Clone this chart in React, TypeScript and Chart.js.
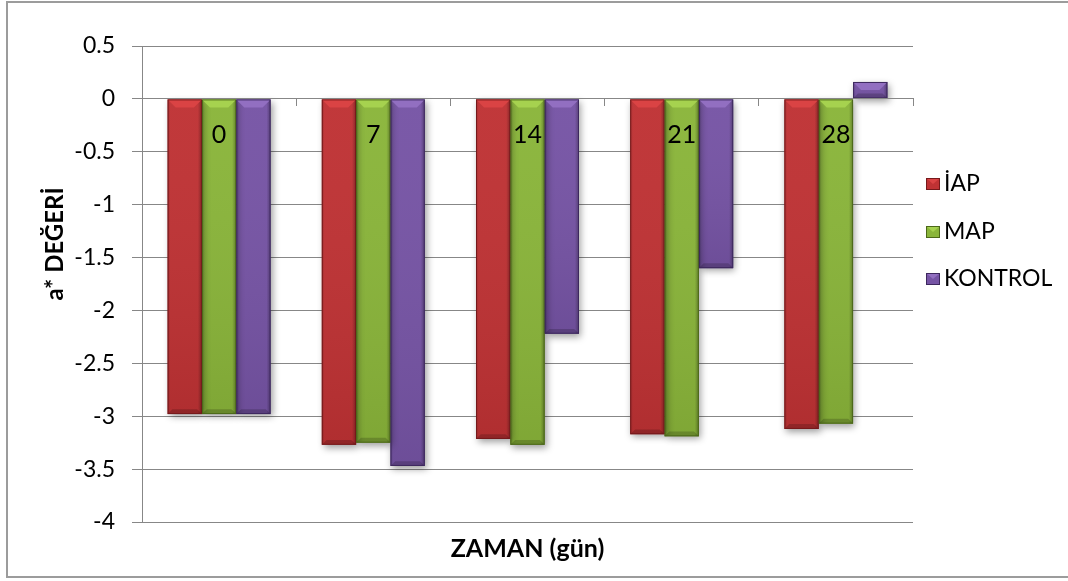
import { useEffect, useRef } from "react";
import { Chart, registerables } from "chart.js";

Chart.register(...registerables);

// Days of storage (x categories)
const days = ["0", "7", "14", "21", "28"];

// a* values per group
const iapValues = [-2.98, -3.27, -3.215, -3.17, -3.12];
const mapValues = [-2.98, -3.25, -3.27, -3.19, -3.07];
const kontrolValues = [-2.98, -3.47, -2.22, -1.6, 0.16];

const seriesNames = ["İAP", "MAP", "KONTROL"];

const yMin = -4;
const yMax = 0.5;
const yStep = 0.5;

const yTitle = "a* DEĞERİ";
const xTitle = "ZAMAN (gün)";

const FONT = "Lato, 'Open Sans', sans-serif";
const GRID = "#878787";

type Palette = { base: string; light: string; edge: string };
const palettes: Palette[] = [
  { base: "#BF3234", light: "#DA4344", edge: "#75191B" },
  { base: "#8AB53A", light: "#A6D24F", edge: "#4C6819" },
  { base: "#7654A5", light: "#926FC1", edge: "#3D285E" },
];

// Excel-like bevel drawn over every bar element
const bevelPlugin = {
  id: "bevel",
  beforeDatasetDraw(chart: any) {
    const ctx = chart.ctx;
    ctx.save();
    ctx.shadowColor = "rgba(0,0,0,0.38)";
    ctx.shadowBlur = 7;
    ctx.shadowOffsetX = 2;
    ctx.shadowOffsetY = 3;
  },
  afterDatasetDraw(chart: any) {
    chart.ctx.restore();
  },
  afterDatasetsDraw(chart: any) {
    const ctx = chart.ctx;
    chart.data.datasets.forEach((_ds: any, di: number) => {
      const meta = chart.getDatasetMeta(di);
      const pal = palettes[di];
      meta.data.forEach((bar: any) => {
        const { x, y, base, width } = bar.getProps(["x", "y", "base", "width"], true);
        const left = x - width / 2;
        const right = x + width / 2;
        const top = Math.min(y, base);
        const bottom = Math.max(y, base);
        const h = bottom - top;
        if (h < 1) return;
        const b = Math.min(8, h / 2, width / 2);
        ctx.save();
        // body shading: darker toward the lower part and the right side
        const gv = ctx.createLinearGradient(0, top, 0, bottom);
        gv.addColorStop(0, "rgba(255,255,255,0.03)");
        gv.addColorStop(1, "rgba(0,0,0,0.08)");
        ctx.fillStyle = gv;
        ctx.fillRect(left, top, width, h);
        const gh = ctx.createLinearGradient(left, 0, right, 0);
        gh.addColorStop(0, "rgba(0,0,0,0.16)");
        gh.addColorStop(0.08, "rgba(0,0,0,0)");
        gh.addColorStop(0.88, "rgba(0,0,0,0)");
        gh.addColorStop(1, "rgba(0,0,0,0.3)");
        ctx.fillStyle = gh;
        ctx.fillRect(left, top, width, h);
        // top bevel
        ctx.beginPath();
        ctx.moveTo(left, top);
        ctx.lineTo(right, top);
        ctx.lineTo(right - b, top + b);
        ctx.lineTo(left + b, top + b);
        ctx.closePath();
        ctx.fillStyle = pal.light;
        ctx.fill();
        // bottom bevel
        ctx.beginPath();
        ctx.moveTo(left, bottom);
        ctx.lineTo(right, bottom);
        ctx.lineTo(right - b * 0.6, bottom - b * 0.6);
        ctx.lineTo(left + b * 0.6, bottom - b * 0.6);
        ctx.closePath();
        ctx.fillStyle = "rgba(0,0,0,0.18)";
        ctx.fill();
        // outline
        ctx.strokeStyle = pal.edge;
        ctx.lineWidth = 1;
        ctx.strokeRect(left + 0.5, top + 0.5, width - 1, h - 1);
        ctx.restore();
      });
    });
  },
};

// Frame, axis titles and legend
const decorPlugin = {
  id: "decor",
  beforeDraw(chart: any) {
    const ctx = chart.ctx;
    ctx.save();
    ctx.fillStyle = "#ffffff";
    ctx.fillRect(0, 0, chart.width, chart.height);
    ctx.strokeStyle = "#9c9c9c";
    ctx.lineWidth = 2;
    ctx.strokeRect(7, 2, chart.width + 10, 575);
    ctx.restore();
  },
  afterDraw(chart: any) {
    const ctx = chart.ctx;
    const area = chart.chartArea;
    ctx.save();
    ctx.fillStyle = "#000000";
    ctx.font = `bold 24px ${FONT}`;
    ctx.textAlign = "center";
    ctx.textBaseline = "middle";
    // y title
    ctx.save();
    ctx.translate(55, 244);
    ctx.rotate(-Math.PI / 2);
    ctx.fillText(yTitle, 0, 0);
    ctx.restore();
    // x title
    ctx.font = `bold 25px ${FONT}`;
    ctx.fillText(xTitle, (area.left + area.right) / 2, 549);

    // legend
    const lx = area.right + 13;
    const rows = [183, 231, 278];
    ctx.font = `23px ${FONT}`;
    ctx.textAlign = "left";
    chart.data.datasets.forEach((ds: any, i: number) => {
      const pal = palettes[i];
      const cy = rows[i];
      const bw = 14;
      const bh = 12;
      const bx = lx;
      const by = cy - bh / 2 + 1;
      ctx.fillStyle = pal.base;
      ctx.fillRect(bx, by, bw, bh);
      ctx.beginPath();
      ctx.moveTo(bx, by);
      ctx.lineTo(bx + bw, by);
      ctx.lineTo(bx + bw / 2, by + bh / 2);
      ctx.closePath();
      ctx.fillStyle = pal.light;
      ctx.fill();
      ctx.strokeStyle = pal.edge;
      ctx.lineWidth = 1;
      ctx.strokeRect(bx + 0.5, by + 0.5, bw - 1, bh - 1);
      ctx.fillStyle = "#000000";
      ctx.fillText(ds.label, bx + bw + 4, cy + 1);
    });
    ctx.restore();
  },
};

export default function App() {
  const canvasRef = useRef<HTMLCanvasElement | null>(null);

  useEffect(() => {
    if (!canvasRef.current) return;
    const chart = new Chart(canvasRef.current, {
      type: "bar",
      data: {
        labels: days,
        datasets: [
          { label: seriesNames[0], data: iapValues, backgroundColor: palettes[0].base },
          { label: seriesNames[1], data: mapValues, backgroundColor: palettes[1].base },
          { label: seriesNames[2], data: kontrolValues, backgroundColor: palettes[2].base },
        ],
      },
      options: {
        responsive: false,
        animation: false,
        devicePixelRatio: 1,
        layout: { padding: { left: 0, right: 155, top: 46, bottom: 59 } },
        datasets: {
          bar: { categoryPercentage: 0.668, barPercentage: 1.0, borderWidth: 0 },
        },
        plugins: {
          legend: { display: false },
          tooltip: { enabled: false },
          title: { display: false },
        },
        scales: {
          x: {
            position: { y: 0 } as any,
            offset: true,
            grid: {
              display: true,
              drawOnChartArea: false,
              drawTicks: true,
              tickLength: 7,
              color: GRID,
              offset: true,
              z: 1,
            },
            border: { display: true, color: GRID, width: 1, z: 1 },
            ticks: {
              z: 1,
              color: "#000000",
              font: { family: FONT, size: 25 },
              padding: 14,
              maxRotation: 0,
            },
          },
          y: {
            min: yMin,
            max: yMax,
            afterFit(scale: any) {
              scale.width = 142;
            },
            grid: {
              color: GRID,
              tickLength: 10,
              drawTicks: true,
            },
            border: { display: true, color: GRID, width: 1 },
            ticks: {
              stepSize: yStep,
              color: "#000000",
              font: { family: FONT, size: 23 },
              padding: 17,
              callback: (v: any) => String(Number(v)),
            },
          },
        },
      },
      plugins: [bevelPlugin, decorPlugin],
    });
    return () => chart.destroy();
  }, []);

  return (
    <div style={{ position: "absolute", left: 0, top: 0, width: 1068, height: 581 }}>
      <canvas ref={canvasRef} width={1068} height={581} style={{ display: "block" }} />
    </div>
  );
}
